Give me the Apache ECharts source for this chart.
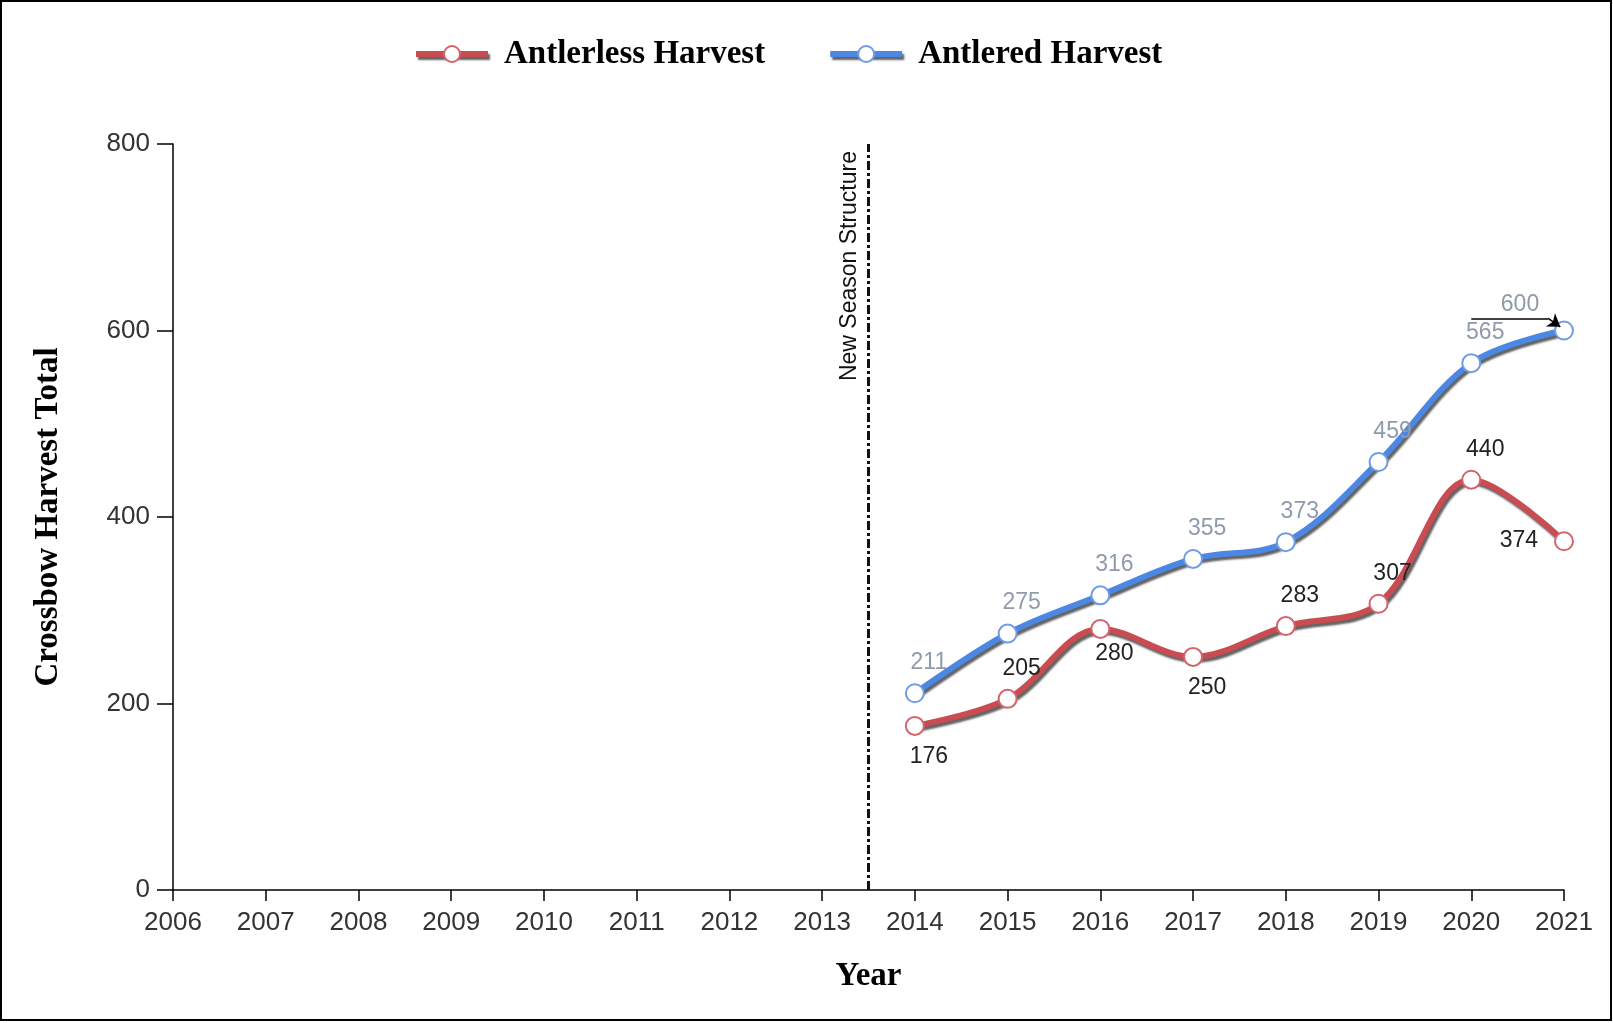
<!DOCTYPE html>
<html>
<head>
<meta charset="utf-8">
<script src="https://cdn.jsdelivr.net/npm/echarts@6/dist/echarts.min.js"></script>
<style>
  html, body { margin: 0; padding: 0; background: #fff; }
  #chart { width: 1613px; height: 1023px; }
</style>
</head>
<body>
<div id="chart"></div>
<script>
// ---- data ----
const years = [2014, 2015, 2016, 2017, 2018, 2019, 2020, 2021];
const antlerless = [176, 205, 280, 250, 283, 307, 440, 374];
const antlered = [211, 275, 316, 355, 373, 459, 565, 600];
const xMin = 2006, xMax = 2021;
const yTicks = [0, 200, 400, 600, 800];
const seasonChangeYear = 2013.5;
const seriesNames = ['Antlerless Harvest', 'Antlered Harvest'];

// ---- label placement (style, not data) ----
const antlerlessLabelPos = ['bottom', 'top', 'bottom', 'bottom', 'top', 'top', 'top', 'left'];
const antleredLabelPos = ['top', 'top', 'top', 'top', 'top', 'top', 'top', 'top'];

const RED = '#c94c52';
const BLUE = '#4d87e4';
const serifFont = '"Liberation Serif", "Times New Roman", serif';
const sansFont = '"Liberation Sans", Arial, sans-serif';

function buildData(vals, posArr, isAntlered) {
  return years.map((y, i) => {
    const pos = posArr[i];
    let offset = [14, 0];
    let distance = 9;
    if (pos === 'left') { offset = [0, -1]; distance = 16; }
    if (!isAntlered && i === 2) { distance = 3; }
    if (isAntlered && i === years.length - 1) { offset = [-44, 5]; }
    return {
      value: [y, vals[i]],
      label: { position: pos, offset: offset, distance: distance }
    };
  });
}

const lineShadow = {
  shadowColor: 'rgba(60,60,60,0.8)',
  shadowBlur: 2,
  shadowOffsetX: 2,
  shadowOffsetY: 3
};

const chart = echarts.init(document.getElementById('chart'), null, { renderer: 'canvas' });

const option = {
  backgroundColor: '#fff',
  animation: false,
  graphic: [{
    type: 'rect',
    shape: { x: 1, y: 1, width: 1610, height: 1019 },
    style: { fill: 'none', stroke: '#000', lineWidth: 2 },
    silent: true,
    z: 100
  }],
  legend: {
    left: 413,
    top: 36,
    padding: 0,
    itemWidth: 72,
    itemHeight: 20,
    itemGap: 62,
    data: seriesNames,
    lineStyle: Object.assign({ width: 6 }, lineShadow),
    textStyle: {
      fontFamily: serifFont,
      fontWeight: 'bold',
      fontSize: 33,
      color: '#000',
      lineHeight: 36,
      padding: [0, 0, 0, 11]
    }
  },
  grid: { left: 173, right: 49, top: 144, bottom: 133, containLabel: false },
  xAxis: {
    type: 'value',
    min: xMin,
    max: xMax,
    interval: 1,
    name: 'Year',
    nameLocation: 'middle',
    nameGap: 70,
    nameTextStyle: { fontFamily: serifFont, fontWeight: 'bold', fontSize: 33, color: '#000' },
    axisLine: { show: true, onZero: false, lineStyle: { color: '#000', width: 1.5 } },
    axisTick: { show: true, length: 11, lineStyle: { color: '#000', width: 1.5 } },
    axisLabel: {
      margin: 20,
      fontFamily: sansFont,
      fontSize: 26,
      color: '#333',
      formatter: v => String(v)
    },
    splitLine: { show: false }
  },
  yAxis: {
    type: 'value',
    min: yTicks[0],
    max: yTicks[yTicks.length - 1],
    interval: 200,
    name: 'Crossbow Harvest Total',
    nameLocation: 'middle',
    nameGap: 108,
    nameTextStyle: { fontFamily: serifFont, fontWeight: 'bold', fontSize: 33, color: '#000' },
    axisLine: { show: true, lineStyle: { color: '#000', width: 1.5 } },
    axisTick: { show: true, length: 16, lineStyle: { color: '#000', width: 1.5 } },
    axisLabel: {
      margin: 23,
      fontFamily: sansFont,
      fontSize: 26,
      color: '#333'
    },
    splitLine: { show: false }
  },
  series: [
    {
      name: seriesNames[0],
      type: 'line',
      smooth: 0.35,
      data: buildData(antlerless, antlerlessLabelPos, false),
      symbol: 'circle',
      symbolSize: 18,
      z: 3,
      itemStyle: { color: '#fff', borderColor: '#d4636c', borderWidth: 2 },
      lineStyle: Object.assign({ color: RED, width: 6 }, lineShadow),
      label: {
        show: true,
        fontFamily: sansFont,
        fontSize: 23,
        color: '#222',
        formatter: p => String(p.value[1])
      },
      markLine: {
        silent: true,
        symbol: 'none',
        animation: false,
        lineStyle: { color: '#111', width: 3, type: [9, 3, 3, 3] },
        label: {
          show: true,
          position: 'insideEndTop',
          formatter: 'New Season Structure',
          fontFamily: sansFont,
          fontSize: 23,
          color: '#111',
          distance: 7
        },
        data: [{ xAxis: seasonChangeYear }]
      }
    },
    {
      name: seriesNames[1],
      type: 'line',
      smooth: 0.35,
      data: buildData(antlered, antleredLabelPos, true),
      symbol: 'circle',
      symbolSize: 18,
      z: 4,
      itemStyle: { color: '#fff', borderColor: '#6e9be6', borderWidth: 2 },
      lineStyle: Object.assign({ color: BLUE, width: 6 }, lineShadow),
      label: {
        show: true,
        fontFamily: sansFont,
        fontSize: 23,
        color: '#8f9aab',
        formatter: p => String(p.value[1])
      },
      markLine: {
        silent: true,
        animation: false,
        label: { show: false },
        lineStyle: { color: '#000', width: 1.5, type: 'solid' },
        symbolSize: 12,
        data: [
          [{ coord: [2020, 613], symbol: 'none' }, { coord: [2020.83, 613], symbol: 'none' }],
          [{ coord: [2020.83, 613], symbol: 'none' }, { coord: [2020.96, 604], symbol: 'arrow' }]
        ]
      }
    }
  ]
};

chart.setOption(option);
</script>
</body>
</html>
